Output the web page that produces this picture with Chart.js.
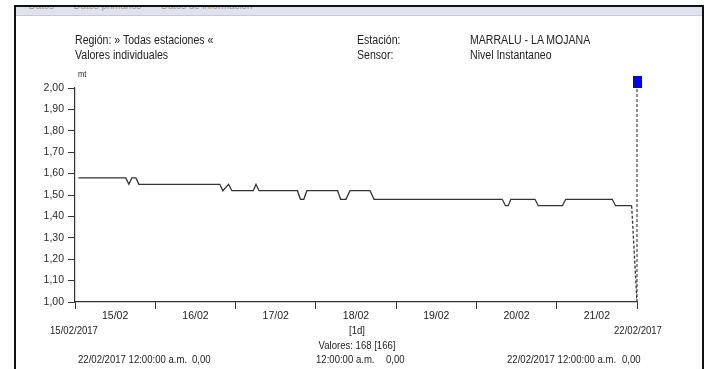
<!DOCTYPE html>
<html>
<head>
<meta charset="utf-8">
<script src="https://cdn.jsdelivr.net/npm/chart.js@4.4.1/dist/chart.umd.min.js"></script>
<style>
  body { margin: 0; background: #fff; }
  #wrap { position: relative; width: 712px; height: 369px; overflow: hidden; font-family: 'Liberation Sans', Arial, sans-serif; color: #222; }
  #frame { position: absolute; left: 14px; top: 5px; width: 686px; height: 400px; border: 2px solid #111; border-bottom: none; }
  #strip { position: absolute; left: 0; top: 0; right: 0; height: 8px; background: #dfe3f0; border-bottom: 1px solid #c5cad8; overflow: hidden; }
  #strip span { position: absolute; left: 4px; top: -8px; font-size: 11px; color: #999; white-space: pre; transform: scaleX(0.88); transform-origin: left; }
  #chart { position: absolute; left: 0; top: 0; }
  .t { position: absolute; font-size: 12px; line-height: 14px; white-space: pre; transform: scaleX(0.88); transform-origin: left center; }
  .s { font-size: 11px; transform: scaleX(0.87); }
  .c { transform: translateX(-50%) scaleX(0.87); transform-origin: center; }
</style>
</head>
<body>
<div id="wrap">
  <div id="frame"><div id="strip"><span>•  Datos    •  Datos primarios    •  Datos de información</span></div></div>
  <canvas id="chart" width="712" height="369"></canvas>

  <div class="t" style="left:75px; top:33px">Región: » Todas estaciones «</div>
  <div class="t" style="left:75px; top:48px">Valores individuales</div>
  <div class="t" style="left:357px; top:33px">Estación:</div>
  <div class="t" style="left:357px; top:48px">Sensor:</div>
  <div class="t" style="left:470px; top:33px">MARRALU - LA MOJANA</div>
  <div class="t" style="left:470px; top:48px">Nivel Instantaneo</div>
  <div class="t" style="left:78px; top:67px; font-size:8.5px">mt</div>

  <div class="t s c" style="left:74px; top:323px">15/02/2017</div>
  <div class="t s c" style="left:357px; top:323px">[1d]</div>
  <div class="t s c" style="left:638px; top:323px">22/02/2017</div>
  <div class="t s c" style="left:357px; top:338px">Valores: 168 [166]</div>

  <div class="t s" style="left:78px; top:352px">22/02/2017 12:00:00 a.m.</div>
  <div class="t s" style="left:192px; top:352px">0,00</div>
  <div class="t s" style="left:316px; top:352px">12:00:00 a.m.</div>
  <div class="t s" style="left:386px; top:352px">0,00</div>
  <div class="t s" style="left:507px; top:352px">22/02/2017 12:00:00 a.m.</div>
  <div class="t s" style="left:622px; top:352px">0,00</div>
</div>

<script>
// hours since 15/02/2017 00:00 and level in metres
const hours = [1, 15.2, 16.1, 17.0, 18.2, 19.1, 43.3, 44.2, 45.9, 46.9, 53.3, 54.1, 55.0,
    66.5, 67.4, 68.4, 69.3, 78.5, 79.4, 81.0, 82.2, 88.2, 89.4, 127.7, 128.7, 129.5, 130.3,
    137.5, 138.5, 145.7, 146.7, 160.6, 161.6, 166.4, 168];
const levels = [1.58, 1.58, 1.55, 1.58, 1.58, 1.55, 1.55, 1.52, 1.55, 1.52, 1.52, 1.55, 1.52,
    1.52, 1.48, 1.48, 1.52, 1.52, 1.48, 1.48, 1.52, 1.52, 1.48, 1.48, 1.45, 1.45, 1.48,
    1.48, 1.45, 1.45, 1.48, 1.48, 1.45, 1.45, 1.00];
const dayLabels = ['15/02', '16/02', '17/02', '18/02', '19/02', '20/02', '21/02'];
const markerHour = 168;
const markerLevel = 2.03;

const lastIdx = hours.length - 1;
const fontNarrow = { family: "'Liberation Sans', Arial, sans-serif", size: 10.5 };

const xTicks = [];
for (let h = 0; h <= 168; h += 12) xTicks.push(h);

// blue marker, a bit taller than wide
const marker = document.createElement('canvas');
marker.width = 9;
marker.height = 12;
const mctx = marker.getContext('2d');
mctx.fillStyle = '#0000ff';
mctx.fillRect(0, 0, 9, 12);

new Chart(document.getElementById('chart'), {
    type: 'line',
    data: {
        datasets: [
            {
                data: hours.map((h, i) => ({ x: h, y: levels[i] })),
                borderColor: '#333',
                borderWidth: 1.3,
                pointRadius: 0,
                tension: 0,
                segment: {
                    borderDash: ctx => ctx.p1DataIndex === lastIdx ? [3, 2] : undefined,
                },
            },
            {
                data: [{ x: markerHour, y: 1 }, { x: markerHour, y: markerLevel }],
                borderColor: '#444',
                borderWidth: 1.2,
                borderDash: [3, 2],
                pointStyle: [false, marker],
                pointRadius: [0, 6],
                clip: false,
            },
        ],
    },
    options: {
        responsive: false,
        animation: false,
        events: [],
        layout: { padding: { top: 88, right: 75, left: 0, bottom: 0 } },
        plugins: { legend: { display: false }, tooltip: { enabled: false } },
        scales: {
            x: {
                type: 'linear',
                min: 0,
                max: 168,
                afterFit: s => { s.height = 67; },
                afterBuildTicks: s => { s.ticks = xTicks.map(v => ({ value: v })); },
                ticks: {
                    autoSkip: false,
                    maxRotation: 0,
                    padding: 1,
                    color: '#222',
                    font: fontNarrow,
                    callback: v => (v % 24 === 12 ? dayLabels[(v - 12) / 24] : ''),
                },
                grid: {
                    drawOnChartArea: false,
                    tickLength: 7,
                    tickColor: ctx => (ctx.tick && ctx.tick.value % 24 ? 'rgba(0,0,0,0)' : '#333'),
                },
                border: { color: '#333', width: 1.2 },
            },
            y: {
                min: 1,
                max: 2,
                afterFit: s => { s.width = 75; },
                ticks: {
                    stepSize: 0.1,
                    padding: 4,
                    color: '#2a2a2a',
                    font: fontNarrow,
                    callback: v => v.toFixed(2).replace('.', ','),
                },
                grid: { drawOnChartArea: false, tickLength: 7, tickColor: '#333' },
                border: { color: '#333', width: 1.2 },
            },
        },
    },
});
</script>
</body>
</html>
